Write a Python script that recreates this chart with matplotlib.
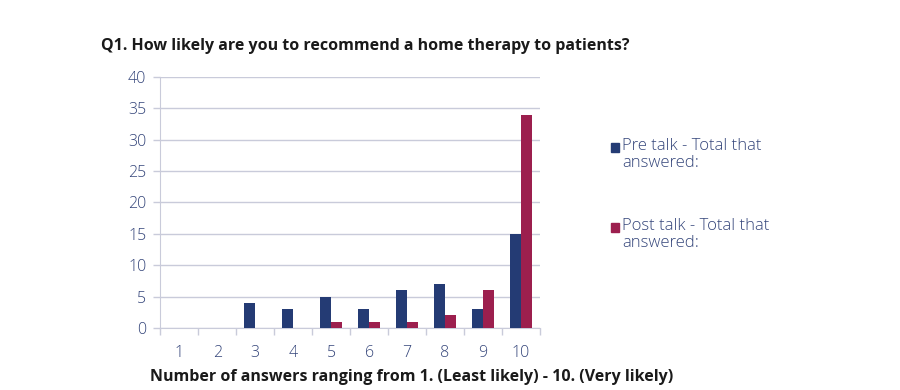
import numpy as np
import matplotlib.pyplot as plt
from matplotlib.patches import Rectangle

# Survey answers per score
scores = ['1', '2', '3', '4', '5', '6', '7', '8', '9', '10']
pre_talk = [0, 0, 4, 3, 5, 3, 6, 7, 3, 15]
post_talk = [0, 0, 0, 0, 1, 1, 1, 2, 6, 34]
series_names = ['Pre talk - Total that\nanswered:', 'Post talk - Total that\nanswered:']

navy = '#243B74'
crimson = '#9C1F4E'
grid_col = '#C9CBDA'
tick_col = '#34457A'

plt.rcParams['font.family'] = ['Open Sans', 'DejaVu Sans']

fig = plt.figure(figsize=(9, 3.9), dpi=100)
ax = fig.add_axes([0.178, 0.159, 0.422, 0.644])

x = np.arange(len(scores))
w = 0.29
ax.bar(x - w / 2, pre_talk, w, color=navy, zorder=3)
ax.bar(x + w / 2, post_talk, w, color=crimson, zorder=3)

ax.set_xlim(-0.5, len(scores) - 0.5)
ax.set_ylim(0, 40)
ax.set_yticks(range(0, 41, 5))
ax.yaxis.grid(True, color=grid_col, linewidth=1, zorder=0)

# category labels centred, tick marks on boundaries
ax.set_xticks(x)
ax.set_xticklabels(scores)
ax.set_xticks(np.arange(-0.5, len(scores)), minor=True)
ax.tick_params(axis='x', which='major', length=0, pad=12, labelsize=11.5, labelcolor=tick_col)
ax.tick_params(axis='x', which='minor', length=5, color=grid_col, width=1)
ax.tick_params(axis='y', length=5, color=grid_col, width=1, pad=5, labelsize=11.5, labelcolor=tick_col)
for lab in ax.get_xticklabels() + ax.get_yticklabels():
    lab.set_fontweight('light')

for s in ['top', 'right']:
    ax.spines[s].set_visible(False)
ax.spines['left'].set_color(grid_col)
ax.spines['bottom'].set_color(grid_col)

ax.set_xlabel('Number of answers ranging from 1. (Least likely) - 10. (Very likely)',
              fontsize=11.5, fontweight='bold', color='#1a1a1a')
ax.xaxis.set_label_coords(0.663, -0.162)
fig.text(0.112, 0.873, 'Q1. How likely are you to recommend a home therapy to patients?',
         fontsize=11.5, fontweight='bold', color='#1a1a1a')

# legend drawn by hand so the square sits beside the first line
for i, (name, col) in enumerate(zip(series_names, [navy, crimson])):
    ty = 0.617 - i * 0.205
    fig.patches.append(Rectangle((0.679, ty - 0.007), 0.009, 0.023, color=col,
                                 transform=fig.transFigure, figure=fig))
    fig.text(0.691, ty + 0.028, name, fontsize=12, color=tick_col, va='top',
             linespacing=1.08, fontweight='light')

fig.savefig('out.png', dpi=100)
